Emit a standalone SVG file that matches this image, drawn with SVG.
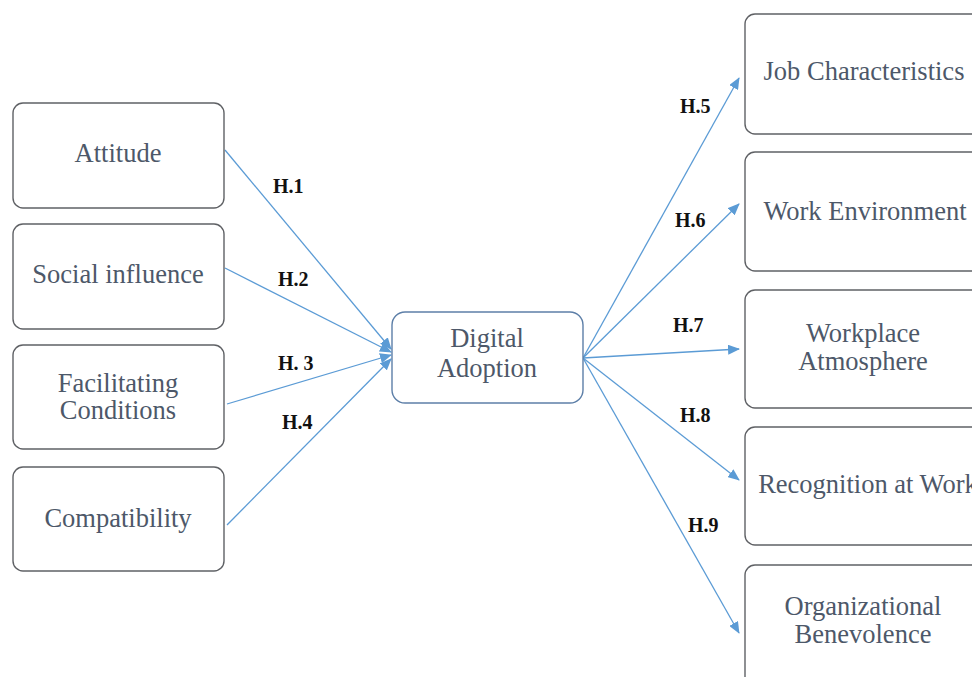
<svg xmlns="http://www.w3.org/2000/svg" width="972" height="677" viewBox="0 0 972 677">
<defs>
<marker id="ah" markerUnits="userSpaceOnUse" markerWidth="12" markerHeight="10" refX="11" refY="5" orient="auto">
<path d="M0,0 L12,5 L0,10 Z" fill="#5b9bd5"/>
</marker>
<style>
.box{fill:#ffffff;stroke:#5f6165;stroke-width:1.4}
.center{fill:#ffffff;stroke:#5d7fa8;stroke-width:1.4}
.t{font-family:"Liberation Serif","Times New Roman","DejaVu Serif",serif;font-size:26.5px;fill:#4d5869;text-anchor:middle}
.h{font-family:"Liberation Serif","Times New Roman","DejaVu Serif",serif;font-size:20px;font-weight:bold;fill:#111111}
.c{stroke:#5b9bd5;stroke-width:1.3;fill:none;marker-end:url(#ah)}
</style>
</defs>
<rect width="972" height="677" fill="#ffffff"/>
<g id="connectors">
<line class="c" x1="225" y1="150" x2="391" y2="349"/>
<line class="c" x1="225" y1="268" x2="391" y2="352"/>
<line class="c" x1="227" y1="404" x2="391" y2="355"/>
<line class="c" x1="227" y1="525" x2="391" y2="359"/>
<line class="c" x1="583" y1="358" x2="739" y2="78"/>
<line class="c" x1="583" y1="358" x2="739" y2="204"/>
<line class="c" x1="583" y1="358" x2="739" y2="349"/>
<line class="c" x1="583" y1="358" x2="739" y2="480"/>
<line class="c" x1="583" y1="358" x2="739" y2="633"/>
</g>
<g id="labels">
<text class="h" x="273" y="193">H.1</text>
<text class="h" x="278" y="286">H.2</text>
<text class="h" x="278" y="370">H. 3</text>
<text class="h" x="282" y="429">H.4</text>
<text class="h" x="680" y="113">H.5</text>
<text class="h" x="675" y="227">H.6</text>
<text class="h" x="673" y="332">H.7</text>
<text class="h" x="680" y="422">H.8</text>
<text class="h" x="688" y="532">H.9</text>
</g>
<g id="attitude">
<rect class="box" x="13" y="103" width="211" height="105" rx="10"/>
<text class="t" x="118" y="162">Attitude</text>
</g>
<g id="social-influence">
<rect class="box" x="13" y="224" width="211" height="105" rx="10"/>
<text class="t" x="118" y="283">Social influence</text>
</g>
<g id="facilitating-conditions">
<rect class="box" x="13" y="345" width="211" height="104" rx="10"/>
<text class="t" x="118" y="392">Facilitating</text>
<text class="t" x="118" y="419">Conditions</text>
</g>
<g id="compatibility">
<rect class="box" x="13" y="467" width="211" height="104" rx="10"/>
<text class="t" x="118" y="527">Compatibility</text>
</g>
<g id="digital-adoption">
<rect class="center" x="392" y="312" width="191" height="91" rx="13"/>
<text class="t" x="487" y="347">Digital</text>
<text class="t" x="487" y="377">Adoption</text>
</g>
<g id="job-characteristics">
<rect class="box" x="745" y="14" width="240" height="120" rx="10"/>
<text class="t" x="864" y="80">Job Characteristics</text>
</g>
<g id="work-environment">
<rect class="box" x="745" y="152" width="240" height="119" rx="10"/>
<text class="t" x="865" y="220">Work Environment</text>
</g>
<g id="workplace-atmosphere">
<rect class="box" x="745" y="290" width="240" height="118" rx="10"/>
<text class="t" x="863" y="342">Workplace</text>
<text class="t" x="863" y="370">Atmosphere</text>
</g>
<g id="recognition-at-work">
<rect class="box" x="745" y="427" width="240" height="118" rx="10"/>
<text class="t" x="868" y="493">Recognition at Work</text>
</g>
<g id="organizational-benevolence">
<rect class="box" x="745" y="565" width="240" height="125" rx="10"/>
<text class="t" x="863" y="615">Organizational</text>
<text class="t" x="863" y="643">Benevolence</text>
</g>
</svg>
